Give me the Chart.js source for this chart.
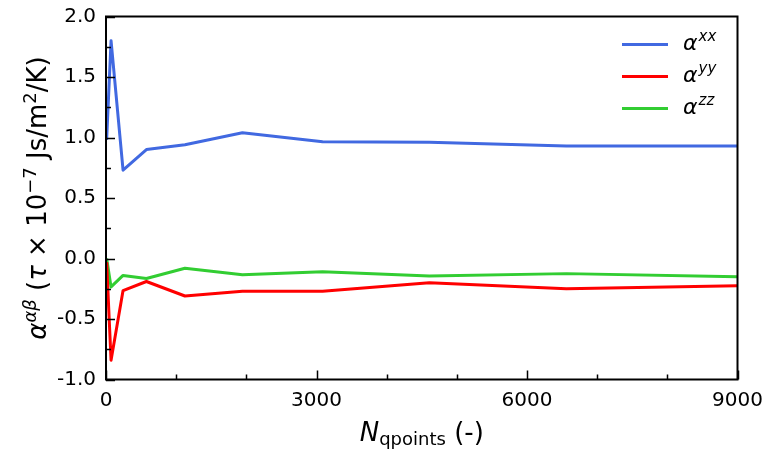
<!DOCTYPE html>
<html>
<head>
<meta charset="utf-8">
<script src="https://cdn.jsdelivr.net/npm/chart.js@4/dist/chart.umd.min.js"></script>
<style>
  body { margin: 0; background: #fff; }
  #wrap { width: 766px; height: 451px; }
</style>
</head>
<body>
<div id="wrap"><canvas id="alphaChart" width="766" height="451"></canvas></div>
<script>
// q-point counts (x) and the three tensor components
const nqpoints = [9, 72, 243, 576, 1125, 1944, 3087, 4608, 6561, 9000];
const alphaXX = [0.98, 1.80, 0.73, 0.90, 0.94, 1.04, 0.965, 0.96, 0.93, 0.93];
const alphaYY = [-0.03, -0.84, -0.265, -0.19, -0.31, -0.27, -0.27, -0.20, -0.25, -0.225];
const alphaZZ = [0.0, -0.235, -0.14, -0.165, -0.08, -0.135, -0.11, -0.145, -0.125, -0.15];
const seriesNames = ['xx', 'yy', 'zz'];
const seriesColors = ['#4169E1', '#FF0000', '#32CD32'];
const xTickLabels = [0, 3000, 6000, 9000];
const yTickLabels = [-1.0, -0.5, 0.0, 0.5, 1.0, 1.5, 2.0];

const FONT = "'DejaVu Sans'";

function toPoints(ys) {
    return nqpoints.map((x, i) => ({ x: x, y: ys[i] }));
}

// draw a run of text pieces (for sub/superscripts), centred on cx
function drawRich(ctx, parts, cx, baseY) {
    let total = 0;
    parts.forEach(p => {
        ctx.font = p.font;
        p.w = ctx.measureText(p.t).width;
        total += p.w;
    });
    let x = cx - total / 2;
    ctx.textAlign = 'left';
    ctx.textBaseline = 'alphabetic';
    parts.forEach(p => {
        ctx.font = p.font;
        ctx.fillText(p.t, x, baseY + (p.dy || 0));
        x += p.w;
    });
}

const big = '26px ' + FONT;
const bigIt = 'italic 26px ' + FONT;
const small = '18px ' + FONT;
const smallIt = 'italic 18px ' + FONT;

const decorPlugin = {
    id: 'decor',
    afterDraw(chart) {
        const ctx = chart.ctx;
        const a = chart.chartArea;
        const xs = chart.scales.x;
        const ys = chart.scales.y;
        ctx.save();
        ctx.strokeStyle = '#000';
        ctx.fillStyle = '#000';

        // inward ticks, majors longer than minors
        ctx.lineWidth = 1.5;
        ctx.beginPath();
        for (let i = 0; i <= 12; i++) {
            const v = -1 + i * 0.25;
            const py = Math.round(ys.getPixelForValue(v)) + 0.5;
            const len = i % 2 === 0 ? 9 : 5;
            ctx.moveTo(a.left, py);
            ctx.lineTo(a.left + len, py);
        }
        for (let v = 0; v <= 9000; v += 1000) {
            const px = Math.round(xs.getPixelForValue(v)) + 0.5;
            const len = v % 3000 === 0 ? 9 : 5;
            ctx.moveTo(px, a.bottom);
            ctx.lineTo(px, a.bottom - len);
        }
        ctx.stroke();

        // frame
        ctx.lineWidth = 2;
        ctx.strokeRect(a.left, a.top, a.right - a.left, a.bottom - a.top);

        // legend
        chart.data.datasets.forEach((ds, i) => {
            const ly = 44.5 + i * 32;
            ctx.strokeStyle = ds.borderColor;
            ctx.lineWidth = 3;
            ctx.beginPath();
            ctx.moveTo(622, ly);
            ctx.lineTo(668, ly);
            ctx.stroke();
            ctx.fillStyle = '#000';
            ctx.font = 'italic 22px ' + FONT;
            ctx.textAlign = 'left';
            ctx.textBaseline = 'alphabetic';
            ctx.fillText('α', 683, ly + 5);
            const w = ctx.measureText('α').width;
            ctx.font = 'italic 15px ' + FONT;
            ctx.fillText(seriesNames[i], 683 + w + 1, ly - 4);
        });

        // x axis title
        ctx.fillStyle = '#000';
        drawRich(ctx, [
            { t: 'N', font: bigIt },
            { t: 'qpoints', font: small, dy: 4 },
            { t: ' (-)', font: big }
        ], (a.left + a.right) / 2, 441);

        // y axis title, rotated
        ctx.translate(46, (a.top + a.bottom) / 2);
        ctx.rotate(-Math.PI / 2);
        drawRich(ctx, [
            { t: 'α', font: bigIt },
            { t: 'αβ', font: smallIt, dy: -10 },
            { t: ' (', font: big },
            { t: 'τ', font: bigIt },
            { t: ' × 10', font: big },
            { t: '−7', font: small, dy: -10 },
            { t: ' Js/m', font: big },
            { t: '2', font: small, dy: -10 },
            { t: '/K)', font: big }
        ], 0, 0);
        ctx.restore();
    }
};

// drop the extra room Chart.js keeps for overhanging tick labels
function noLabelPadding(s) {
    s.paddingTop = 0;
    s.paddingBottom = 0;
    s.paddingLeft = 0;
    s.paddingRight = 0;
}

document.addEventListener('DOMContentLoaded', function() {
    const ctx = document.getElementById('alphaChart').getContext('2d');
    const series = [alphaXX, alphaYY, alphaZZ];
    new Chart(ctx, {
        type: 'line',
        data: {
            datasets: series.map((ys, i) => ({
                label: 'α' + seriesNames[i],
                data: toPoints(ys),
                borderColor: seriesColors[i],
                backgroundColor: seriesColors[i],
                borderWidth: 3,
                borderJoinStyle: 'round',
                pointRadius: 0,
                tension: 0,
                fill: false
            }))
        },
        options: {
            responsive: false,
            animation: false,
            events: [],
            layout: {
                padding: { left: 0, right: 28.5, top: 16.5, bottom: 0 }
            },
            plugins: {
                legend: { display: false },
                tooltip: { enabled: false }
            },
            scales: {
                x: {
                    type: 'linear',
                    min: 0,
                    max: 9000,
                    grid: { display: false, drawTicks: false },
                    border: { display: false },
                    afterBuildTicks: s => { s.ticks = xTickLabels.map(v => ({ value: v })); },
                    afterFit: s => { s.height = 71.5; noLabelPadding(s); },
                    ticks: {
                        autoSkip: false,
                        maxRotation: 0,
                        padding: 9,
                        color: '#000',
                        font: { family: 'DejaVu Sans', size: 20 },
                        callback: v => String(v)
                    }
                },
                y: {
                    min: -1,
                    max: 2,
                    grid: { display: false, drawTicks: false },
                    border: { display: false },
                    afterBuildTicks: s => { s.ticks = yTickLabels.map(v => ({ value: v })); },
                    afterFit: s => { s.width = 106; noLabelPadding(s); },
                    ticks: {
                        autoSkip: false,
                        padding: 10,
                        color: '#000',
                        font: { family: 'DejaVu Sans', size: 20 },
                        callback: v => Number(v).toFixed(1)
                    }
                }
            }
        },
        plugins: [decorPlugin]
    });
});
</script>
</body>
</html>
